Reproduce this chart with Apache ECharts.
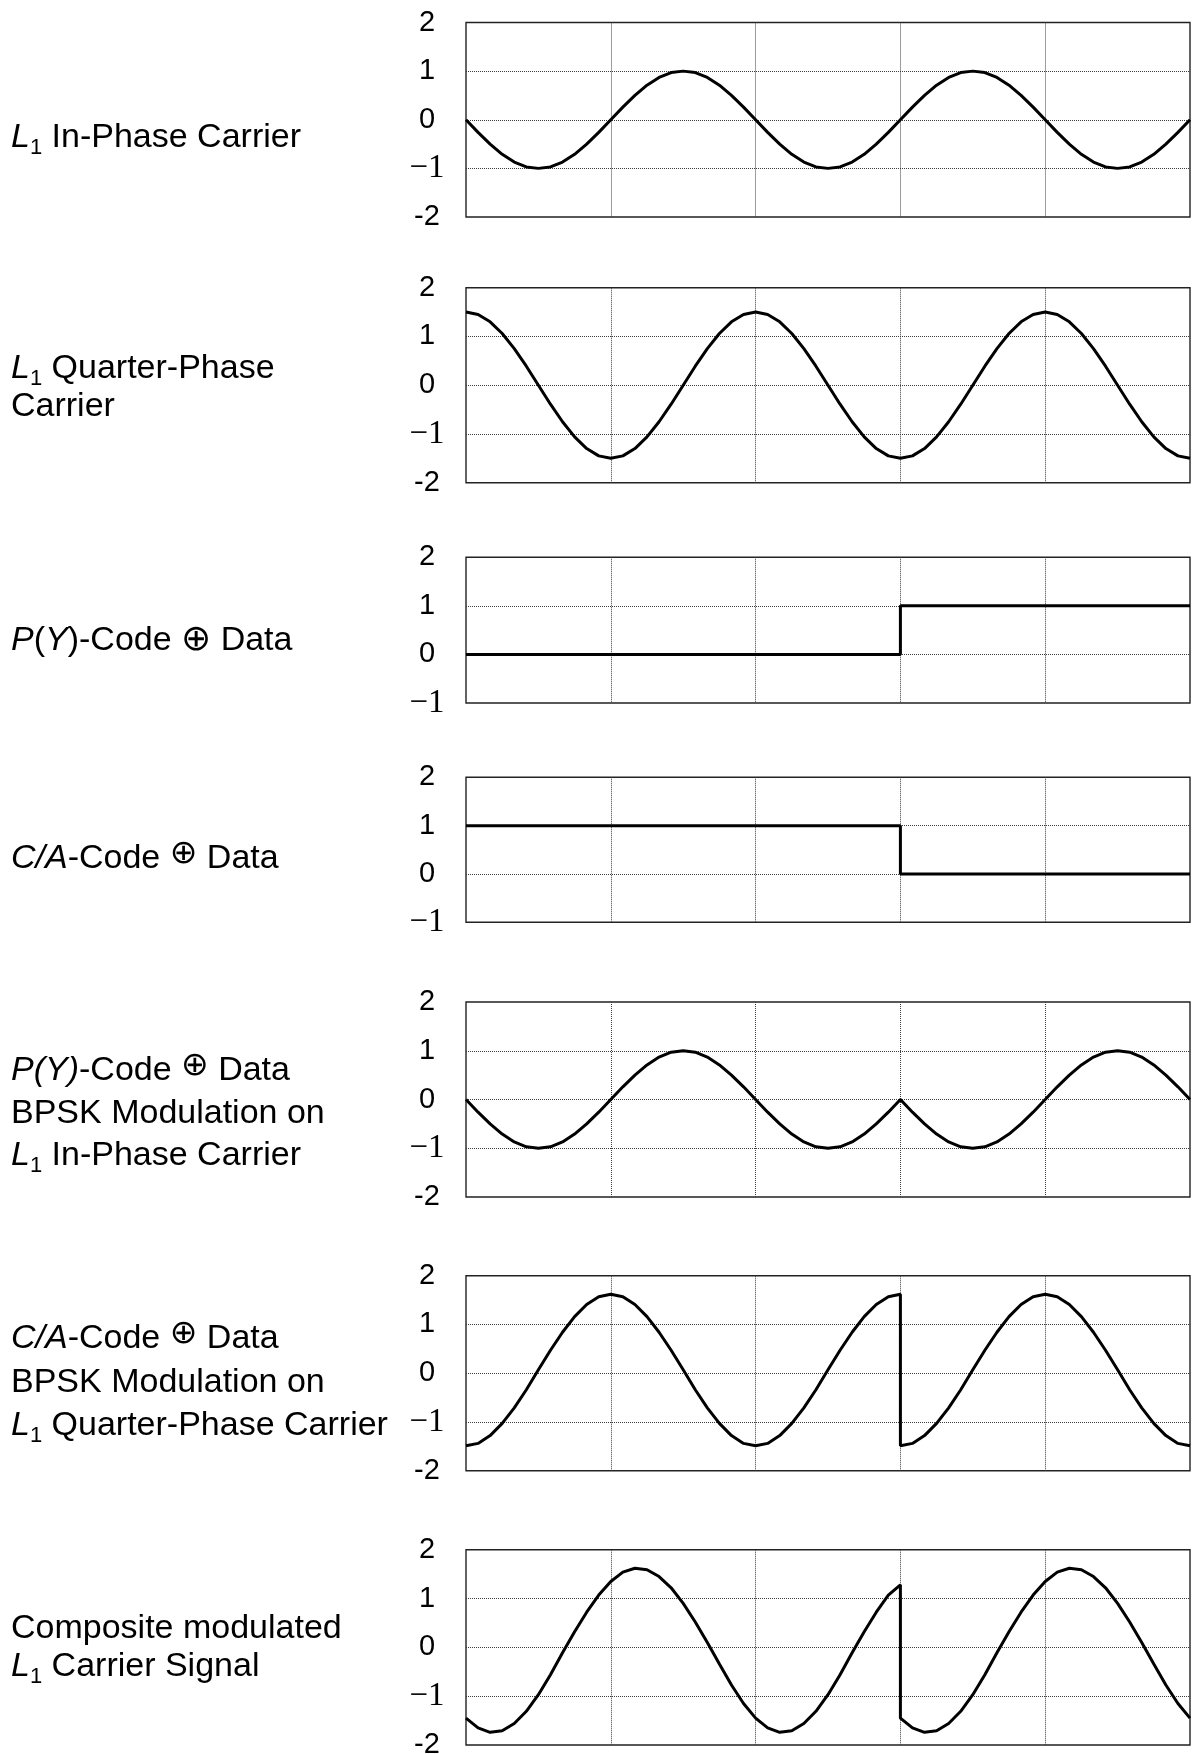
<!DOCTYPE html>
<html>
<head>
<meta charset="utf-8">
<title>L1 carrier modulation</title>
<script src="https://cdn.jsdelivr.net/npm/echarts@6.0.0/dist/echarts.min.js"></script>
<style>
  html, body { margin: 0; padding: 0; background: #fff; }
  #main { width: 1194px; height: 1754px; }
</style>
</head>
<body>
<div id="main"></div>
<script>
// carrier phase in degrees (dotted gridline every 180)
var phase = [0, 15, 30, 45, 60, 75, 90, 105, 120, 135, 150, 165, 180, 195, 210, 225, 240, 255, 270, 285, 300, 315, 330, 345,
  360, 375, 390, 405, 420, 435, 450, 465, 480, 495, 510, 525, 540, 555, 570, 585, 600, 615, 630, 645, 660, 675, 690, 705,
  720, 735, 750, 765, 780, 795, 810, 825, 840, 855, 870, 885, 900];
// same phases, 540 twice where the code bit flips
var jumpPhase = [0, 15, 30, 45, 60, 75, 90, 105, 120, 135, 150, 165, 180, 195, 210, 225, 240, 255, 270, 285, 300, 315, 330, 345,
  360, 375, 390, 405, 420, 435, 450, 465, 480, 495, 510, 525, 540, 540, 555, 570, 585, 600, 615, 630, 645, 660, 675, 690, 705,
  720, 735, 750, 765, 780, 795, 810, 825, 840, 855, 870, 885, 900];
var stepPhase = [0, 540, 540, 900];

var inPhase = [0, -0.26, -0.5, -0.71, -0.87, -0.97, -1, -0.97, -0.87, -0.71, -0.5, -0.26,
  0, 0.26, 0.5, 0.71, 0.87, 0.97, 1, 0.97, 0.87, 0.71, 0.5, 0.26,
  0, -0.26, -0.5, -0.71, -0.87, -0.97, -1, -0.97, -0.87, -0.71, -0.5, -0.26,
  0, 0.26, 0.5, 0.71, 0.87, 0.97, 1, 0.97, 0.87, 0.71, 0.5, 0.26,
  0, -0.26, -0.5, -0.71, -0.87, -0.97, -1, -0.97, -0.87, -0.71, -0.5, -0.26,
  0];
var quarterPhase = [1.5, 1.45, 1.3, 1.06, 0.75, 0.39, 0, -0.39, -0.75, -1.06, -1.3, -1.45,
  -1.5, -1.45, -1.3, -1.06, -0.75, -0.39, 0, 0.39, 0.75, 1.06, 1.3, 1.45,
  1.5, 1.45, 1.3, 1.06, 0.75, 0.39, 0, -0.39, -0.75, -1.06, -1.3, -1.45,
  -1.5, -1.45, -1.3, -1.06, -0.75, -0.39, 0, 0.39, 0.75, 1.06, 1.3, 1.45,
  1.5, 1.45, 1.3, 1.06, 0.75, 0.39, 0, -0.39, -0.75, -1.06, -1.3, -1.45,
  -1.5];
var pyCode = [0, 0, 1, 1];
var caCode = [1, 1, 0, 0];
var pyBpsk = [0, -0.26, -0.5, -0.71, -0.87, -0.97, -1, -0.97, -0.87, -0.71, -0.5, -0.26,
  0, 0.26, 0.5, 0.71, 0.87, 0.97, 1, 0.97, 0.87, 0.71, 0.5, 0.26,
  0, -0.26, -0.5, -0.71, -0.87, -0.97, -1, -0.97, -0.87, -0.71, -0.5, -0.26,
  0, -0.26, -0.5, -0.71, -0.87, -0.97, -1, -0.97, -0.87, -0.71, -0.5, -0.26,
  0, 0.26, 0.5, 0.71, 0.87, 0.97, 1, 0.97, 0.87, 0.71, 0.5, 0.26,
  0];
var caBpsk = [-1.49, -1.44, -1.28, -1.03, -0.71, -0.34, 0.07, 0.47, 0.84, 1.16, 1.41, 1.57,
  1.62, 1.57, 1.41, 1.16, 0.84, 0.47, 0.07, -0.34, -0.71, -1.03, -1.28, -1.44,
  -1.49, -1.44, -1.28, -1.03, -0.71, -0.34, 0.07, 0.47, 0.84, 1.16, 1.41, 1.57,
  1.62,
  -1.49, -1.44, -1.28, -1.03, -0.71, -0.34, 0.07, 0.47, 0.84, 1.16, 1.41, 1.57,
  1.62, 1.57, 1.41, 1.16, 0.84, 0.47, 0.07, -0.34, -0.71, -1.03, -1.28, -1.44,
  -1.49];
var composite = [-1.45, -1.65, -1.74, -1.71, -1.56, -1.31, -0.97, -0.56, -0.11, 0.32, 0.72, 1.07,
  1.35, 1.54, 1.62, 1.59, 1.45, 1.22, 0.9, 0.52, 0.1, -0.34, -0.77, -1.15,
  -1.45, -1.65, -1.74, -1.71, -1.56, -1.31, -0.97, -0.56, -0.11, 0.32, 0.72, 1.07,
  1.28,
  -1.45, -1.65, -1.74, -1.71, -1.56, -1.31, -0.97, -0.56, -0.11, 0.32, 0.72, 1.07,
  1.35, 1.54, 1.62, 1.59, 1.45, 1.22, 0.9, 0.52, 0.1, -0.34, -0.77, -1.15,
  -1.45];

var chartDom = document.getElementById('main');
var myChart = echarts.init(chartDom, null, { renderer: 'canvas' });
var option;

var SANS = 'Liberation Sans';

// one entry per stacked plot
var panels = [
  { xs: phase, ys: inPhase, min: -2, top: 22.5, height: 194.5,
    lines: [[138, '{i|L}{sub|1} In-Phase Carrier']] },
  { xs: phase, ys: quarterPhase, min: -2, top: 287.7, height: 195,
    lines: [[369, '{i|L}{sub|1} Quarter-Phase'], [407, 'Carrier']] },
  { xs: stepPhase, ys: pyCode, min: -1, top: 557.3, height: 145.7,
    lines: [[641, '{i|P}({i|Y})-Code {op|⊕} Data']] },
  { xs: stepPhase, ys: caCode, min: -1, top: 777.3, height: 145,
    lines: [[859, '{i|C/A}-Code {up|⊕} Data']] },
  { xs: phase, ys: pyBpsk, min: -2, top: 1002, height: 195,
    lines: [[1071, '{i|P(Y)}-Code {up|⊕} Data'], [1114, 'BPSK Modulation on'], [1156, '{i|L}{sub|1} In-Phase Carrier']] },
  { xs: jumpPhase, ys: caBpsk, min: -2, top: 1275.7, height: 195,
    lines: [[1339, '{i|C/A}-Code {up|⊕} Data'], [1383, 'BPSK Modulation on'], [1426, '{i|L}{sub|1} Quarter-Phase Carrier']] },
  { xs: jumpPhase, ys: composite, min: -2, top: 1549.7, height: 195.3,
    lines: [[1629, 'Composite modulated'], [1667, '{i|L}{sub|1} Carrier Signal']] }
];

var labelRich = {
  i: { fontStyle: 'italic', fontSize: 34, fontFamily: SANS, fill: '#000', color: '#000' },
  sub: { fontSize: 22, lineHeight: 28, verticalAlign: 'bottom', fontFamily: SANS, fill: '#000', color: '#000' },
  op: { fontSize: 36, fontFamily: 'DejaVu Sans', fill: '#000', color: '#000' },
  up: { fontSize: 33, lineHeight: 6, verticalAlign: 'top', fontFamily: 'DejaVu Sans', fill: '#000', color: '#000' }
};

var grids = [], xAxes = [], yAxes = [], series = [], graphics = [];

panels.forEach(function (p, k) {
  grids.push({
    left: 466, width: 724, top: p.top, height: p.height,
    show: true, borderColor: '#222', borderWidth: 1.4, backgroundColor: 'transparent',
    containLabel: false, outerBoundsMode: 'none'
  });
  xAxes.push({
    gridIndex: k, type: 'value', min: 0, max: 900, interval: 180,
    axisLine: { show: false }, axisTick: { show: false }, axisLabel: { show: false },
    splitLine: { show: true, showMinLine: false, showMaxLine: false,
      lineStyle: { type: 'dotted', color: '#3a3a3a', width: 1 } }
  });
  yAxes.push({
    gridIndex: k, type: 'value', min: p.min, max: 2, interval: 1,
    axisLine: { show: false }, axisTick: { show: false },
    axisLabel: {
      show: true, margin: 39, align: 'center', color: '#000',
      fontFamily: SANS, fontSize: 29, showMinLabel: true, showMaxLabel: true,
      formatter: function (v) {
        if (v === -1) return '{s|\u22121}';
        return String(v);
      },
      rich: { s: { fontFamily: 'Liberation Serif', fontSize: 33, color: '#000' } }
    },
    splitLine: { show: true, showMinLine: false, showMaxLine: false,
      lineStyle: { type: 'dotted', color: '#3a3a3a', width: 1 } }
  });
  series.push({
    type: 'line', xAxisIndex: k, yAxisIndex: k,
    data: p.xs.map(function (x, i) { return [x, p.ys[i]]; }),
    showSymbol: false, symbol: 'none', smooth: false,
    lineStyle: { color: '#000', width: 3 },
    silent: true, animation: false
  });
  p.lines.forEach(function (ln) {
    graphics.push({
      type: 'text', x: 11, y: ln[0], silent: true,
      style: {
        text: ln[1], rich: labelRich,
        fontFamily: SANS, fontSize: 34, lineHeight: 42,
        fill: '#000', align: 'left', verticalAlign: 'middle'
      }
    });
  });
});

option = {
  backgroundColor: '#fff',
  animation: false,
  grid: grids,
  xAxis: xAxes,
  yAxis: yAxes,
  series: series,
  graphic: graphics
};

option && myChart.setOption(option);
</script>
</body>
</html>
